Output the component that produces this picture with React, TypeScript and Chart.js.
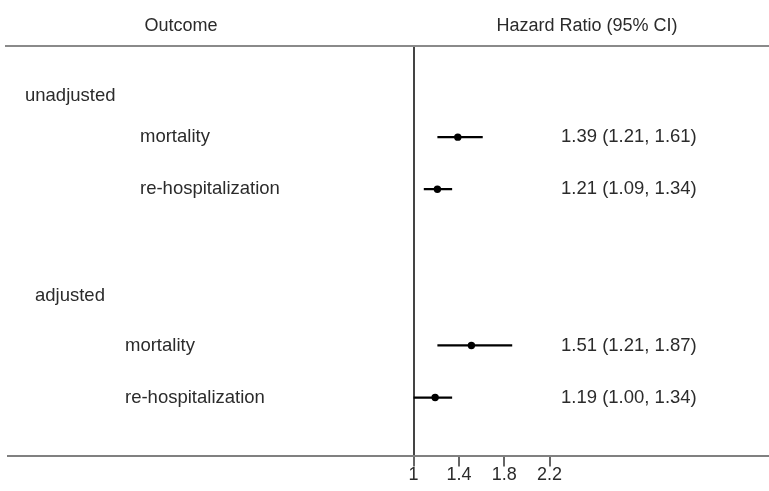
import React, { useEffect, useRef } from "react";
import { Chart, registerables } from "chart.js";

Chart.register(...registerables);

// ---- data ----
const headers = ["Outcome", "Hazard Ratio (95% CI)"];
const groups = ["unadjusted", "adjusted"];
const groupRows = [1.2, 5.04];
const outcomes = ["mortality", "re-hospitalization", "mortality", "re-hospitalization"];
const outcomeGroup = [0, 0, 1, 1];
const outcomeRows = [2, 3, 6, 7];
const hazardRatio = [1.39, 1.21, 1.51, 1.19];
const ciLower = [1.21, 1.09, 1.21, 1.0];
const ciUpper = [1.61, 1.34, 1.87, 1.34];
const xTicks = [1, 1.4, 1.8, 2.2];

// ---- layout / style constants ----
const W = 769;
const H = 491;
const FONT = '"Liberation Sans", Arial, Helvetica, sans-serif';
const TEXT_COLOR = "#2b2b2b";
const LAYOUT = {
  headerY: 26,
  headerX: [181, 587],
  groupX: [25, 35],
  outcomeX: [140, 140, 125, 125],
  hrTextX: 561,
  topLineX0: 5,
};

const fmt = (v: number) => v.toFixed(2);

const textPlugin = {
  id: "forestText",
  afterDraw(chart: any) {
    const { ctx, chartArea, scales } = chart;
    const y = scales.y;
    ctx.save();
    // top rule
    ctx.strokeStyle = "#8a8a8a";
    ctx.lineWidth = 2;
    ctx.beginPath();
    ctx.moveTo(LAYOUT.topLineX0, Math.round(chartArea.top));
    ctx.lineTo(W, Math.round(chartArea.top));
    ctx.stroke();
    // extend the bottom axis rule to the right edge
    const by = Math.round(scales.x.top);
    ctx.strokeStyle = "#808080";
    ctx.beginPath();
    ctx.moveTo(chartArea.right - 2, by);
    ctx.lineTo(W, by);
    ctx.stroke();

    ctx.fillStyle = TEXT_COLOR;
    ctx.textBaseline = "middle";
    // headers
    ctx.font = `18px ${FONT}`;
    ctx.textAlign = "center";
    headers.forEach((h, i) => ctx.fillText(h, LAYOUT.headerX[i], LAYOUT.headerY));
    // group labels
    ctx.font = `18.5px ${FONT}`;
    ctx.textAlign = "left";
    groups.forEach((g, i) => ctx.fillText(g, LAYOUT.groupX[i], y.getPixelForValue(groupRows[i])));
    // outcome labels + HR text
    outcomes.forEach((o, i) => {
      const py = y.getPixelForValue(outcomeRows[i]);
      ctx.fillText(o, LAYOUT.outcomeX[outcomeGroup[i] * 2 + (i % 2)], py);
      ctx.fillText(
        `${fmt(hazardRatio[i])} (${fmt(ciLower[i])}, ${fmt(ciUpper[i])})`,
        LAYOUT.hrTextX,
        py
      );
    });
    ctx.restore();
  },
};

export default function App() {
  const ref = useRef<HTMLCanvasElement | null>(null);

  useEffect(() => {
    if (!ref.current) return;
    const ciSets = outcomes.map((_, i) => ({
      type: "scatter" as const,
      data: [
        { x: ciLower[i], y: outcomeRows[i] },
        { x: ciUpper[i], y: outcomeRows[i] },
      ],
      showLine: true,
      borderColor: "#000",
      borderWidth: 2.2,
      pointRadius: 0,
      pointHoverRadius: 0,
    }));
    const pointSet = {
      type: "scatter" as const,
      data: hazardRatio.map((v, i) => ({ x: v, y: outcomeRows[i] })),
      backgroundColor: "#000",
      borderColor: "#000",
      borderWidth: 0,
      pointRadius: 3.7,
      showLine: false,
    };
    const chart = new Chart(ref.current, {
      type: "scatter",
      data: { datasets: [...ciSets, pointSet] as any },
      plugins: [textPlugin],
      options: {
        animation: false,
        responsive: false,
        devicePixelRatio: 1,
        layout: { padding: { top: 46, left: 8, right: 0, bottom: 7 } },
        plugins: { legend: { display: false }, tooltip: { enabled: false } },
        scales: {
          x: {
            type: "linear",
            min: -2.578,
            max: 4.1,
            afterBuildTicks: (scale: any) => {
              scale.ticks = xTicks.map((v) => ({ value: v }));
            },
            ticks: {
              color: TEXT_COLOR,
              font: { size: 18, family: FONT },
              padding: -2,
              autoSkip: false,
              maxRotation: 0,
              callback: (v: any) => `${v}`,
            },
            grid: {
              color: (c: any) => (c.tick && c.tick.value === 1 ? "#444" : "rgba(0,0,0,0)"),
              lineWidth: 2,
              tickLength: 10,
              tickColor: "#666",
              drawOnChartArea: true,
              drawTicks: true,
            },
            border: { display: true, color: "#808080", width: 2 },
          },
          y: {
            type: "linear",
            display: false,
            reverse: true,
            min: 0.25,
            max: 8.13,
          },
        },
      },
    });
    return () => chart.destroy();
  }, []);

  return (
    <div style={{ position: "absolute", left: 0, top: 0, width: W, height: H, background: "#fff" }}>
      <canvas ref={ref} width={W} height={H} style={{ width: W, height: H, display: "block" }} />
    </div>
  );
}
